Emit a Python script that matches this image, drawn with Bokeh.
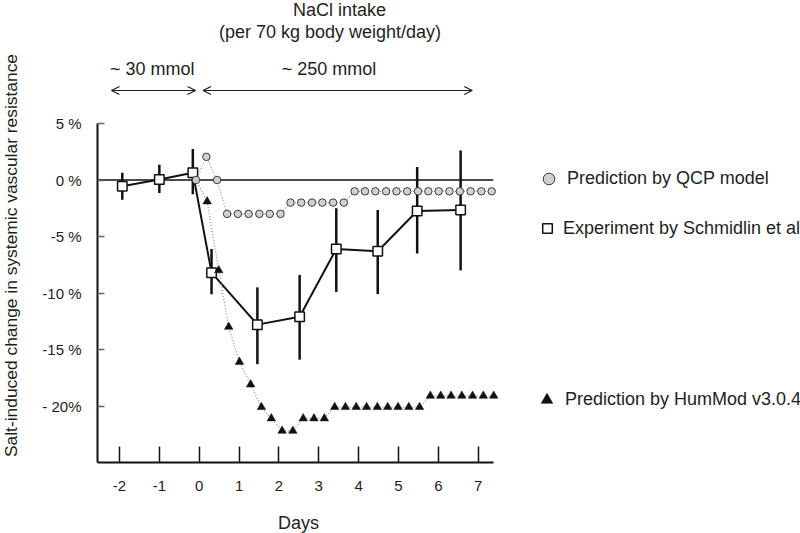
import math
from bokeh.plotting import figure
from bokeh.models import Label, Arrow, OpenHead, Legend, LegendItem, FixedTicker, Range1d
from bokeh.embed import file_html
from bokeh.resources import INLINE

# ---------------- data ----------------
x_ticks = [-2, -1, 0, 1, 2, 3, 4, 5, 6, 7]
x_tick_labels = ["-2", "-1", "0", "1", "2", "3", "4", "5", "6", "7"]
y_ticks = [5, 0, -5, -10, -15, -20]
y_tick_labels = ["5 %", "0 %", "-5 %", "-10 %", "-15 %", "- 20%"]

# Experiment by Schmidlin et al (mean and error bar ends, %)
exp_days = [-1.93, -1.0, -0.16, 0.31, 1.46, 2.52, 3.44, 4.48, 5.47, 6.56]
exp_mean = [-0.55, 0.05, 0.65, -8.2, -12.8, -12.1, -6.1, -6.3, -2.75, -2.65]
exp_upper = [0.65, 1.35, 2.75, -6.1, -9.5, -8.4, -2.5, -2.65, 1.15, 2.6]
exp_lower = [-1.75, -1.15, -1.25, -10.1, -16.3, -15.9, -9.9, -10.1, -6.5, -8.0]

# Prediction by QCP model
qcp_days = [-0.08, 0.18, 0.45, 0.70, 0.97, 1.24, 1.51, 1.77, 2.04, 2.29, 2.56,
            2.83, 3.09, 3.36, 3.63, 3.90, 4.16, 4.42, 4.69, 4.95, 5.22, 5.49,
            5.75, 6.01, 6.28, 6.54, 6.81, 7.08, 7.34]
qcp_vals = [0.0, 2.05, 0.0, -3.0, -3.0, -3.0, -3.0, -3.0, -3.0, -2.0, -2.0,
            -2.0, -2.0, -2.0, -2.0, -1.0, -1.0, -1.0, -1.0, -1.0, -1.0, -1.0,
            -1.0, -1.0, -1.0, -1.0, -1.0, -1.0, -1.0]

# Prediction by HumMod v3.0.4 (first point is the hidden start at day 0)
hum_days = [-0.08, 0.20, 0.49, 0.74, 1.01, 1.29, 1.56, 1.81, 2.08, 2.35, 2.61,
            2.88, 3.14, 3.40, 3.67, 3.94, 4.20, 4.47, 4.73, 4.99, 5.26, 5.53,
            5.80, 6.06, 6.32, 6.59, 6.86, 7.13, 7.39]
hum_vals = [0.0, -1.9, -8.0, -13.0, -16.1, -18.1, -20.1, -21.1, -22.2, -22.2, -21.1,
            -21.1, -21.1, -20.1, -20.1, -20.1, -20.1, -20.1, -20.1, -20.1, -20.1, -20.1,
            -19.1, -19.1, -19.1, -19.1, -19.1, -19.1, -19.1]

# ---------------- layout (page pixel mapping) ----------------
W, H = 800, 533
PX_DAY, PX_PCT = 39.85, 11.3
X0_PX, Y0_PX = 198.7, 179.5          # pixel of day 0 / 0 %

def dx(px):
    return (px - X0_PX) / PX_DAY

def dy(py):
    return (Y0_PX - py) / PX_PCT

AX_X0, AX_X1 = dx(97), dx(492.7)     # x axis extent
AX_Y0, AX_Y1 = -25.0, 5.0            # y axis extent

FONT = "Liberation Sans"
TXT = "#1e1e1e"
BLK = "#111111"

p = figure(width=W, height=H, x_range=Range1d(dx(0), dx(W)),
           y_range=Range1d(dy(H), dy(0)), output_backend="svg",
           toolbar_location=None, title=None,
           min_border_left=0, min_border_right=0, min_border_top=0,
           min_border_bottom=0)
p.outline_line_color = None
p.grid.visible = False
p.background_fill_color = "white"
p.border_fill_color = "white"

xa = p.xaxis[0]
xa.fixed_location = AX_Y0
xa.ticker = FixedTicker(ticks=x_ticks)
xa.major_label_overrides = dict(zip(x_ticks, x_tick_labels))
xa.bounds = (AX_X0, AX_X1)
xa.axis_line_width = 2
xa.axis_line_color = BLK
xa.major_tick_in = 16
xa.major_tick_out = 0
xa.major_tick_line_width = 1.5
xa.major_tick_line_color = BLK
xa.minor_tick_line_color = None
xa.major_label_standoff = 18
xa.major_label_text_font = FONT
xa.major_label_text_font_size = "15px"
xa.major_label_text_color = TXT

ya = p.yaxis[0]
ya.fixed_location = AX_X0
ya.ticker = FixedTicker(ticks=y_ticks)
ya.major_label_overrides = dict(zip(y_ticks, y_tick_labels))
ya.bounds = (AX_Y0, AX_Y1)
ya.axis_line_width = 2
ya.axis_line_color = BLK
ya.major_tick_in = 7
ya.major_tick_out = 0
ya.major_tick_line_width = 1.5
ya.major_tick_line_color = "#4f6690"
ya.minor_tick_line_color = None
ya.major_label_standoff = 16
ya.major_label_text_font = FONT
ya.major_label_text_font_size = "15px"
ya.major_label_text_color = TXT

# zero reference line
p.segment(x0=AX_X0, y0=0, x1=AX_X1, y1=0, line_color=BLK, line_width=1.5)

# experiment
p.segment(x0=exp_days, y0=exp_lower, x1=exp_days, y1=exp_upper,
          line_color=BLK, line_width=2.5)
p.line(exp_days, exp_mean, line_color=BLK, line_width=2)
r_sq = p.scatter(exp_days, exp_mean, marker="square", size=9.5,
                 fill_color="white", line_color=BLK, line_width=1.5)

# QCP model
p.line(qcp_days, qcp_vals, line_color="#8c8c8c", line_width=1.2, line_dash="1 2")
r_c = p.scatter(qcp_days, qcp_vals, marker="circle", size=7.5,
                fill_color="#d0d0d0", line_color="#3c3c3c", line_width=1)

# HumMod
p.line(hum_days, hum_vals, line_color="#8c8c8c", line_width=1.2, line_dash="1 2")
r_t = p.scatter(hum_days[1:], hum_vals[1:], marker="triangle", size=8.5,
                fill_color=BLK, line_color=BLK, line_width=0.5)

# legends (one per item, positioned in frame screen units)
def add_legend(label, rend, cx, cy, g, text_x):
    leg = Legend(items=[LegendItem(label=label, renderers=[rend])],
                 location=(round(cx - g / 2), round(H - (cy + g / 2))),
                 glyph_width=g, glyph_height=g,
                 label_standoff=int(round(text_x - (cx + g / 2))),
                 padding=0, margin=0, spacing=0,
                 border_line_color=None, background_fill_alpha=0,
                 label_text_font=FONT, label_text_font_size="18px",
                 label_text_color=TXT)
    p.add_layout(leg)

add_legend("Prediction by QCP model", r_c, 548.3, 178.5, 29, 566.7)
add_legend("Experiment by Schmidlin et al", r_sq, 546.7, 228.3, 24, 562.7)
add_legend("Prediction by HumMod v3.0.4", r_t, 546.7, 399.5, 29, 565)

# texts
def add_text(text, px, py, angle=0.0, size="18px"):
    p.add_layout(Label(x=dx(px), y=dy(py), text=text, angle=angle,
                       text_align="center", text_baseline="middle",
                       text_font=FONT, text_font_size=size, text_color=TXT))

add_text("NaCl intake", 339, 9)
add_text("(per 70 kg body weight/day)", 329.5, 31)
add_text("~ 30 mmol", 151.7, 68)
add_text("~ 250 mmol", 328.5, 68)
add_text("Days", 298, 522)
add_text("Salt-induced change in systemic vascular resistance", 10, 255,
         math.pi / 2, "17.4px")

# arrows
for xs, xe in [(111, 195), (202.5, 471.7)]:
    p.add_layout(Arrow(start=OpenHead(size=8, line_width=1.2, line_color=TXT),
                       end=OpenHead(size=8, line_width=1.2, line_color=TXT),
                       x_start=dx(xs), y_start=dy(90), x_end=dx(xe), y_end=dy(90),
                       line_width=1.2, line_color=TXT))

open("out.html", "w").write(file_html(p, INLINE))
